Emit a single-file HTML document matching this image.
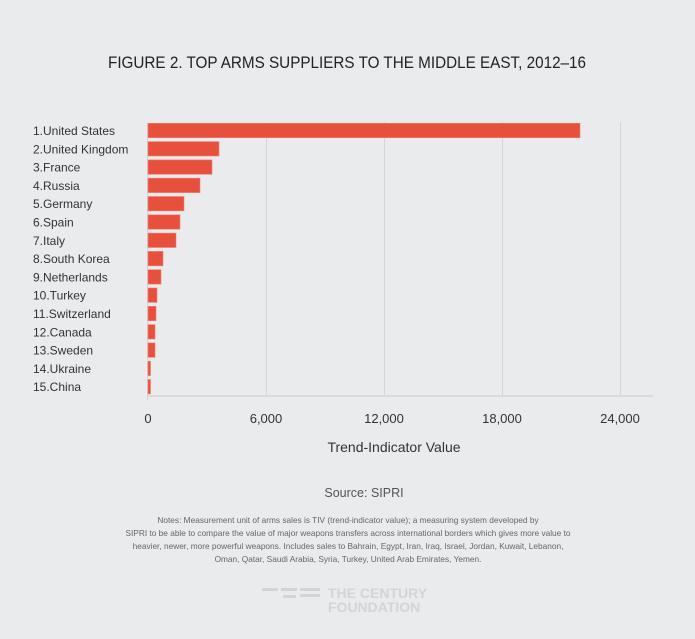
<!DOCTYPE html>
<html><head><style>
html,body{margin:0;padding:0;background:#e9ebec;}
svg{display:block;font-family:"Liberation Sans",sans-serif;}
</style></head><body>
<svg width="695" height="639" viewBox="0 0 695 639">
<rect width="695" height="639" fill="#e9ebec"/>
<text x="347" y="68" text-anchor="middle" font-size="17" fill="#222" textLength="478" lengthAdjust="spacingAndGlyphs">FIGURE 2. TOP ARMS SUPPLIERS TO THE MIDDLE EAST, 2012–16</text>
<g stroke="#d3d6d8" stroke-width="1">
<line x1="266.5" y1="122" x2="266.5" y2="396"/>
<line x1="384.5" y1="122" x2="384.5" y2="396"/>
<line x1="502.5" y1="122" x2="502.5" y2="396"/>
<line x1="620.5" y1="122" x2="620.5" y2="396"/>
<line x1="147" y1="396" x2="653" y2="396" stroke="#d8dadc" stroke-width="2"/>
<line x1="147.5" y1="122" x2="147.5" y2="400"/>
</g>
<g fill="#e8503e" stroke="#f08070" stroke-width="0.6">
<rect x="148" y="123.3" width="432" height="14.4"/>
<rect x="148" y="141.6" width="71" height="14.4"/>
<rect x="148" y="159.9" width="64" height="14.4"/>
<rect x="148" y="178.2" width="52" height="14.4"/>
<rect x="148" y="196.5" width="36" height="14.4"/>
<rect x="148" y="214.8" width="32" height="14.4"/>
<rect x="148" y="233.1" width="28" height="14.4"/>
<rect x="148" y="251.4" width="15" height="14.4"/>
<rect x="148" y="269.7" width="13" height="14.4"/>
<rect x="148" y="288" width="9" height="14.4"/>
<rect x="148" y="306.3" width="8" height="14.4"/>
<rect x="148" y="324.6" width="7" height="14.4"/>
<rect x="148" y="342.9" width="7" height="14.4"/>
<rect x="148" y="361.2" width="2.5" height="14.4"/>
<rect x="148" y="379.5" width="2.5" height="14.4"/>
</g>
<g font-size="12" fill="#333">
<text x="33" y="135">1.United States</text>
<text x="33" y="153.3">2.United Kingdom</text>
<text x="33" y="171.6">3.France</text>
<text x="33" y="189.9">4.Russia</text>
<text x="33" y="208.2">5.Germany</text>
<text x="33" y="226.5">6.Spain</text>
<text x="33" y="244.8">7.Italy</text>
<text x="33" y="263.1">8.South Korea</text>
<text x="33" y="281.4">9.Netherlands</text>
<text x="33" y="299.7">10.Turkey</text>
<text x="33" y="318">11.Switzerland</text>
<text x="33" y="336.3">12.Canada</text>
<text x="33" y="354.6">13.Sweden</text>
<text x="33" y="372.9">14.Ukraine</text>
<text x="33" y="391.2">15.China</text>
</g>
<g font-size="13" fill="#333" text-anchor="middle">
<text x="148" y="423">0</text>
<text x="266" y="423">6,000</text>
<text x="384" y="423">12,000</text>
<text x="502" y="423">18,000</text>
<text x="620" y="423">24,000</text>
<text x="394" y="452" font-size="14">Trend-Indicator Value</text>
<text x="364" y="497" font-size="12.5" fill="#555">Source: SIPRI</text>
</g>
<g font-size="8.3" fill="#666" text-anchor="middle">
<text x="348" y="523">Notes: Measurement unit of arms sales is TIV (trend-indicator value); a measuring system developed by</text>
<text x="348" y="536">SIPRI to be able to compare the value of major weapons transfers across international borders which gives more value to</text>
<text x="348" y="549">heavier, newer, more powerful weapons. Includes sales to Bahrain, Egypt, Iran, Iraq, Israel, Jordan, Kuwait, Lebanon,</text>
<text x="348" y="562">Oman, Qatar, Saudi Arabia, Syria, Turkey, United Arab Emirates, Yemen.</text>
</g>
<g fill="#d2d4d6">
<rect x="262" y="588" width="16" height="3"/>
<rect x="281" y="588" width="16" height="3"/>
<rect x="300" y="588" width="20" height="3"/>
<rect x="283" y="595" width="13" height="3"/>
<rect x="300" y="594" width="20" height="3"/>
<text x="328" y="598" font-size="14" font-weight="bold">THE CENTURY</text>
<text x="328" y="612" font-size="14" font-weight="bold">FOUNDATION</text>
</g>
</svg>
</body></html>
